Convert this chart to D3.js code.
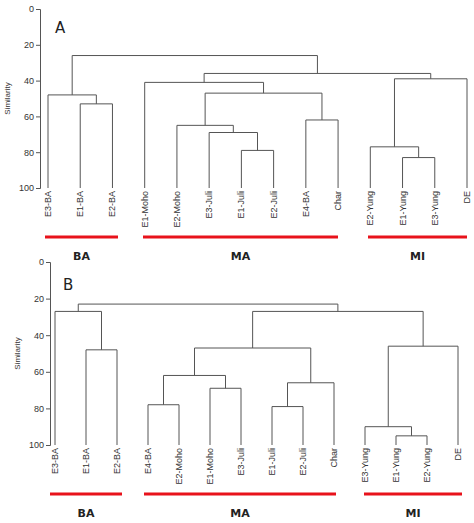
<!DOCTYPE html>
<html><head><meta charset="utf-8">
<script src="https://cdn.jsdelivr.net/npm/d3@7"></script>
<style>body{margin:0;background:#fff}</style></head>
<body><svg id="c" width="474" height="523"></svg>
<script>
const ticks = [0,20,40,60,80,100];
const leavesA = ["E3-BA","E1-BA","E2-BA","E1-Moho","E2-Moho","E3-Juli","E1-Juli","E2-Juli","E4-BA","Char","E2-Yung","E1-Yung","E3-Yung","DE"];
// merges: [childA, childB, similarity]; children are leaf names or merge indices (numbers)
const mergesA = [
  ["E1-BA","E2-BA",53],[ "E3-BA",0,48],
  ["E1-Juli","E2-Juli",79],["E3-Juli",2,69],["E2-Moho",3,65],["E4-BA","Char",62],[4,5,47],["E1-Moho",6,41],
  ["E1-Yung","E3-Yung",83],["E2-Yung",8,77],[9,"DE",39],
  [7,10,36],[1,11,26]
];
const leavesB = ["E3-BA","E1-BA","E2-BA","E4-BA","E2-Moho","E1-Moho","E3-Juli","E1-Juli","E2-Juli","Char","E3-Yung","E1-Yung","E2-Yung","DE"];
const mergesB = [
  ["E1-BA","E2-BA",48],["E3-BA",0,27],
  ["E4-BA","E2-Moho",78],["E1-Moho","E3-Juli",69],[2,3,62],["E1-Juli","E2-Juli",79],[5,"Char",66],[4,6,47],
  ["E1-Yung","E2-Yung",95],["E3-Yung",8,90],[9,"DE",46],
  [7,10,27],[1,11,23]
];
const groups = ["BA","MA","MI"];
const svg = d3.select("#c");
function panel(cfg){
  const g = svg.append("g");
  const y = d3.scaleLinear().domain([0,100]).range([cfg.y0,cfg.y1]);
  const x = d3.scalePoint().domain(cfg.leaves).range([cfg.x0,cfg.x1]);
  g.append("g").attr("transform",`translate(${cfg.ax},0)`)
    .call(d3.axisLeft(y).tickValues(ticks).tickSize(4).tickPadding(2))
    .call(a=>{a.selectAll("text").attr("font-family","Arial, Liberation Sans").attr("font-size",9).attr("fill","#333");
      a.selectAll("line,path").attr("stroke","#555");});
  g.append("text").attr("transform",`translate(${cfg.ax-30},${y(50)}) rotate(-90)`).attr("text-anchor","middle")
    .attr("font-family","Arial, Liberation Sans").attr("font-size",8).attr("fill","#333").text("Similarity");
  g.append("text").attr("x",cfg.lx).attr("y",cfg.ly).attr("font-family","DejaVu Sans").attr("font-size",15).attr("fill","#222").text(cfg.label);
  const pos = {}; cfg.leaves.forEach(l=>pos[l]={x:x(l),h:100});
  const nodes=[];
  const get = c => typeof c==="number"?nodes[c]:pos[c];
  cfg.merges.forEach(([a,b,h])=>{
    const A=get(a),B=get(b);
    g.append("path").attr("fill","none").attr("stroke","#555").attr("stroke-width",1)
      .attr("d",`M${A.x},${y(A.h)}V${y(h)}H${B.x}V${y(B.h)}`);
    nodes.push({x:(A.x+B.x)/2,h:h});
  });
  cfg.leaves.forEach(l=>{
    g.append("text").attr("transform",`translate(${x(l)+3},${y(100)+3}) rotate(-90)`).attr("text-anchor","end")
      .attr("font-family","Arial, Liberation Sans").attr("font-size",9).attr("fill","#333").text(l);
  });
  cfg.bars.forEach((bx,i)=>{
    g.append("line").attr("x1",bx[0]).attr("x2",bx[1]).attr("y1",cfg.by).attr("y2",cfg.by).attr("stroke","#e8121b").attr("stroke-width",3);
    g.append("text").attr("x",(bx[0]+bx[1])/2).attr("y",cfg.gy).attr("text-anchor","middle")
      .attr("font-family","DejaVu Sans").attr("font-weight","bold").attr("font-size",11).attr("fill","#222").text(groups[i]);
  });
}
panel({leaves:leavesA,merges:mergesA,y0:9,y1:188,x0:48,x1:467,ax:40,label:"A",lx:55,ly:33,
  bars:[[45,118],[143,338],[368,467]],by:237,gy:260});
panel({leaves:leavesB,merges:mergesB,y0:262,y1:445,x0:55,x1:458,ax:50,label:"B",lx:63,ly:290,
  bars:[[50,122],[144,336],[364,462]],by:494,gy:517});
</script></body></html>
